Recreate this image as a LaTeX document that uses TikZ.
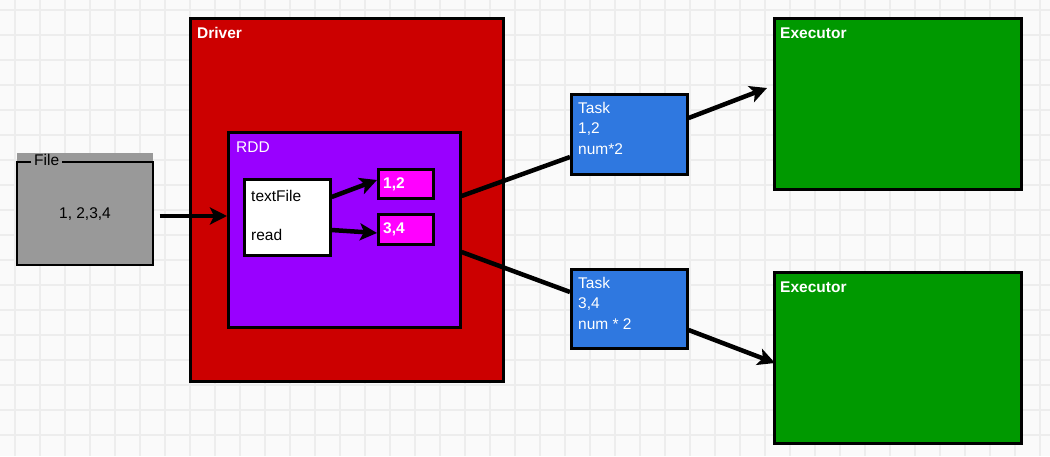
\documentclass[tikz,border=0pt]{standalone}
\usepackage{fontspec}
\setmainfont{Liberation Sans}
\usetikzlibrary{arrows.meta,calc}
\definecolor{bgc}{HTML}{FAFAFA}
\definecolor{gridc}{HTML}{EDEDED}
\definecolor{drvred}{HTML}{CC0000}
\definecolor{rddpurple}{HTML}{9900FF}
\definecolor{partmag}{HTML}{FF00FF}
\definecolor{filegrey}{HTML}{999999}
\definecolor{taskblue}{HTML}{2F78E0}
\definecolor{execgreen}{HTML}{009900}
\tikzset{
  box/.style={draw=black, line width=2.6pt, rectangle, inner sep=0pt, anchor=north west},
  ttl/.style={anchor=base west, inner sep=0pt, font=\fontsize{15.5}{18}\selectfont\bfseries, text=white},
  wt/.style={anchor=base west, inner sep=0pt, font=\fontsize{15.5}{18}\selectfont, text=white},
  txt/.style={anchor=base west, inner sep=0pt, font=\fontsize{15.5}{18}\selectfont},
  arr/.style={line width=4.5pt, -{Stealth[length=17pt,width=17pt,inset=4pt]}},
  link/.style={line width=4.5pt},
}
\begin{document}
\begin{tikzpicture}[x=1pt,y=-1pt]
\useasboundingbox (0,0) rectangle (1050,456);
\fill[bgc] (0,0) rectangle (1050,456);
\foreach \gx in {15,40,...,1050} \draw[gridc, line width=1.5pt] (\gx,0) -- (\gx,456);
\foreach \gy in {10,35,...,456} \draw[gridc, line width=1.5pt] (0,\gy) -- (1050,\gy);

% File
\fill[filegrey] (17,153) rectangle (153,266);
\node[box, draw=none, minimum width=136pt, minimum height=104pt] (file) at (17,162) {};
\draw[line width=2.6pt] (31,162) -- (17,162) -- (17,265) -- (153,265) -- (153,162) -- (62,162);
\node[txt, anchor=west] (filet) at (34,160) {File};
\node[txt, anchor=center] (filev) at (85,214) {1, 2,3,4};

% Driver
\node[box, fill=drvred, minimum width=313pt, minimum height=363pt] (drv) at (189,17) {};
\node[ttl] (drvt) at (197,38) {Driver};

% RDD
\node[box, fill=rddpurple, minimum width=232pt, minimum height=195pt] (rdd) at (227,131) {};
\node[wt] (rddt) at (236,152) {RDD};

\node[box, fill=white, minimum width=86pt, minimum height=76pt] (tf) at (243,178) {};
\node[txt] (tft) at (251,201) {textFile};
\node[txt] (rdt) at (251,240) {read};

\node[box, fill=partmag, minimum width=55pt, minimum height=29pt] (p1) at (377,168) {};
\node[ttl] (p1t) at (383,188) {1,2};
\node[box, fill=partmag, minimum width=55pt, minimum height=30pt] (p2) at (377,213) {};
\node[ttl] (p2t) at (383,233) {3,4};

% Tasks
\node[box, fill=taskblue, minimum width=116pt, minimum height=80pt] (t1) at (570,93) {};
\node[wt] (t1a) at (578,113) {Task};
\node[wt] (t1b) at (578,133) {1,2};
\node[wt] (t1c) at (578,154) {num*2};

\node[box, fill=taskblue, minimum width=116pt, minimum height=79pt] (t2) at (570,268) {};
\node[wt] (t2a) at (578,288) {Task};
\node[wt] (t2b) at (578,308) {3,4};
\node[wt] (t2c) at (578,329) {num * 2};

% Executors
\node[box, fill=execgreen, minimum width=247pt, minimum height=171pt] (e1) at (773,17) {};
\node[ttl] (e1t) at (780,38) {Executor};
\node[box, fill=execgreen, minimum width=247pt, minimum height=171pt] (e2) at (773,271) {};
\node[ttl] (e2t) at (780,292) {Executor};

% Connectors
\draw[arr] ([yshift=-54pt]file.north east) ++(4,0) -- ([yshift=-85pt]rdd.north west);
\draw[arr] ([yshift=-19pt]tf.north east) -- ([yshift=-12pt]p1.north west);
\draw[arr] ([yshift=-52pt]tf.north east) -- ([yshift=-20pt]p2.north west);
\draw[link] ([yshift=-65pt]rdd.north east) -- ([yshift=-64pt]t1.north west);
\draw[link] ([yshift=-121pt]rdd.north east) -- ([yshift=-24pt]t2.north west);
\draw[arr] ([yshift=-25pt]t1.north east) -- ([xshift=-6pt,yshift=-71pt]e1.north west);
\draw[arr] ([yshift=-62pt]t2.north east) -- ([xshift=2pt,yshift=-92pt]e2.north west);
\end{tikzpicture}
\end{document}
